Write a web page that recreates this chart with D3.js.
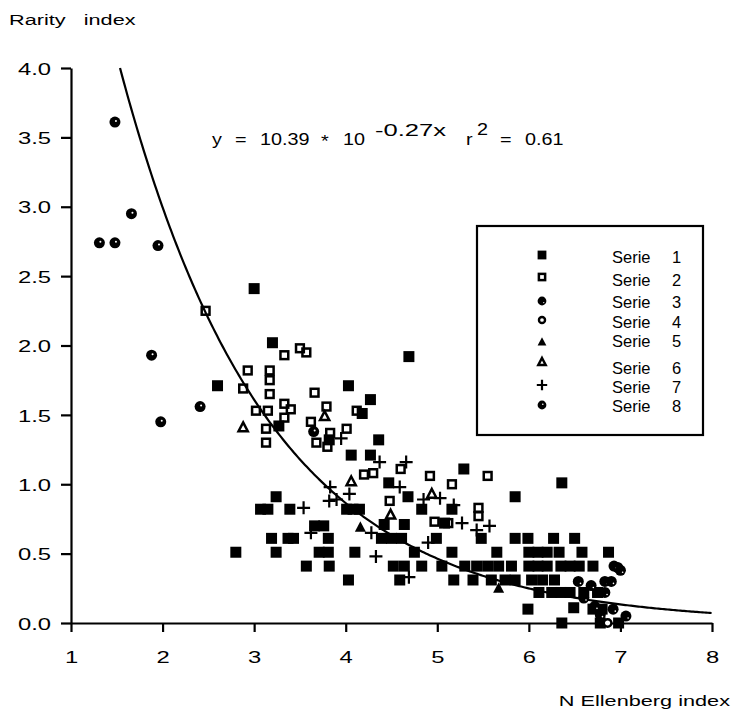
<!DOCTYPE html>
<html>
<head>
<meta charset="utf-8">
<script src="https://cdn.jsdelivr.net/npm/d3@7"></script>
<style>
  body { margin: 0; background: #fff; }
  svg { display: block; }
  text { font-family: "Liberation Sans", Arial, sans-serif; fill: #000; white-space: pre; }
</style>
</head>
<body>
<svg id="chart" width="734" height="720"></svg>
<script>
// --- data
const X_TICKS = [1, 2, 3, 4, 5, 6, 7, 8];
const Y_TICKS = [0, 0.5, 1, 1.5, 2, 2.5, 3, 3.5, 4];
const X_LABEL = 'N Ellenberg index';
const Y_LABEL = 'Rarity   index';

// fitted curve y = a * 10^(b x)
const FIT_A = 10.39;
const FIT_B = -0.27;
const FIT_R2 = 0.61;

const SERIES_NAMES = ['Serie 1', 'Serie 2', 'Serie 3', 'Serie 4', 'Serie 5', 'Serie 6', 'Serie 7', 'Serie 8'];
const SERIES_SYMBOLS = ['square', 'squareOpen', 'circleDot', 'circleOpen', 'triangle', 'triangleOpen', 'plus', 'circleSpot'];

const SERIE_1 = [
    [3.0, 2.41], [3.2, 2.02], [2.6, 1.71], [4.69, 1.92], [4.03, 1.71], [4.27, 1.61], [4.18, 1.51],
    [3.27, 1.42], [3.82, 1.32], [4.36, 1.32], [4.06, 1.21], [4.27, 1.21], [4.47, 1.01], [5.29, 1.11],
    [6.36, 1.01], [5.85, 0.91], [4.68, 0.91], [3.24, 0.91],
    [3.07, 0.82], [3.15, 0.82], [3.39, 0.82], [4.01, 0.82], [4.08, 0.82], [4.15, 0.82], [4.83, 0.82], [5.16, 0.82],
    [3.66, 0.70], [3.76, 0.70], [4.42, 0.71], [4.64, 0.71], [5.08, 0.72],
    [3.19, 0.61], [3.37, 0.61], [3.43, 0.61], [3.81, 0.61], [4.39, 0.61], [4.5, 0.61], [4.61, 0.61],
    [4.99, 0.61], [5.48, 0.61], [5.85, 0.61], [5.99, 0.61], [6.27, 0.61], [6.5, 0.61],
    [2.8, 0.51], [3.24, 0.51], [3.71, 0.51], [3.81, 0.51], [4.1, 0.51], [4.75, 0.51], [5.16, 0.51],
    [5.65, 0.51], [6.0, 0.51], [6.1, 0.51], [6.2, 0.51], [6.33, 0.51], [6.58, 0.51], [6.87, 0.51],
    [3.57, 0.41], [3.82, 0.41], [4.52, 0.41], [4.64, 0.41], [4.83, 0.41], [5.05, 0.41], [5.3, 0.41],
    [5.43, 0.41], [5.55, 0.41], [5.67, 0.41], [5.81, 0.41], [6.0, 0.41], [6.1, 0.41], [6.2, 0.41],
    [6.35, 0.41], [6.45, 0.41], [6.55, 0.41], [6.7, 0.41],
    [4.03, 0.31], [4.59, 0.31], [5.18, 0.31], [5.39, 0.31], [5.59, 0.31], [5.74, 0.31], [5.85, 0.31],
    [6.03, 0.31], [6.15, 0.31], [6.28, 0.31],
    [6.11, 0.22], [6.25, 0.22], [6.35, 0.22], [6.45, 0.22], [6.6, 0.22], [6.75, 0.22],
    [5.99, 0.10], [6.49, 0.11], [6.7, 0.10], [6.8, 0.10],
    [6.36, 0.0], [6.78, 0.0], [6.98, 0.0]
];
const SERIE_2 = [
    [2.47, 2.25], [3.33, 1.93], [3.5, 1.98], [3.57, 1.95], [2.93, 1.82], [3.17, 1.82], [3.17, 1.75],
    [2.88, 1.69], [3.17, 1.65], [3.66, 1.66], [3.02, 1.53], [3.15, 1.53], [3.33, 1.58], [3.4, 1.54],
    [3.33, 1.48], [3.13, 1.40], [3.13, 1.30], [3.79, 1.56], [3.62, 1.45], [3.68, 1.30], [3.8, 1.27],
    [3.83, 1.37], [4.12, 1.53], [4.01, 1.40], [4.6, 1.11], [4.3, 1.08], [4.2, 1.07], [4.92, 1.06],
    [5.16, 1.0], [5.55, 1.06], [4.48, 0.88], [5.45, 0.83], [5.45, 0.77], [4.97, 0.73], [5.12, 0.72]
];
const SERIE_3 = [
    [6.54, 0.30], [6.6, 0.18], [6.68, 0.27], [6.72, 0.12], [6.83, 0.30], [6.9, 0.30], [6.97, 0.40],
    [6.93, 0.41], [6.83, 0.22], [6.92, 0.10], [7.06, 0.05], [6.78, 0.06], [7.0, 0.38]
];
const SERIE_4 = [[6.86, 0.0]];
const SERIE_5 = [[5.67, 0.25], [4.16, 0.69]];
const SERIE_6 = [[2.88, 1.41], [3.77, 1.49], [4.06, 1.02], [4.49, 0.78], [4.94, 0.93]];
const SERIE_7 = [
    [3.95, 1.33], [4.37, 1.16], [4.66, 1.16], [3.83, 0.98], [3.82, 0.88], [3.9, 0.89], [4.04, 0.93],
    [3.54, 0.83], [3.62, 0.65], [4.28, 0.65], [4.33, 0.48], [4.69, 0.33], [4.59, 0.98], [4.85, 0.89],
    [5.03, 0.90], [5.27, 0.72], [4.9, 0.58], [5.57, 0.70], [5.43, 0.67], [5.18, 0.85]
];
const SERIE_8 = [
    [1.48, 3.61], [1.66, 2.95], [1.31, 2.74], [1.48, 2.74], [1.95, 2.72], [1.88, 1.93], [1.98, 1.45],
    [2.41, 1.56], [3.65, 1.38]
];
const SERIES = [SERIE_1, SERIE_2, SERIE_3, SERIE_4, SERIE_5, SERIE_6, SERIE_7, SERIE_8];

// --- layout
const svg = d3.select('#chart');
const x = d3.scaleLinear().domain([1, 8]).range([71, 712]);
const y = d3.scaleLinear().domain([0, 4]).range([623, 68]);
const AXIS_STRETCH = 1.4; // axis lettering is horizontally wide in the original

function drawMarker(sel, type, k) {
    k = k || 1;
    if (type === 'square') {
        sel.append('rect').attr('x', -5.5 * k).attr('y', -5.5 * k).attr('width', 11 * k).attr('height', 11 * k);
    } else if (type === 'squareOpen') {
        sel.append('rect').attr('x', -3.9 * k).attr('y', -3.9 * k).attr('width', 7.8 * k).attr('height', 7.8 * k)
            .attr('fill', 'none').attr('stroke', '#000').attr('stroke-width', 2.5);
    } else if (type === 'circleDot') {
        sel.append('circle').attr('r', 5.5 * k);
        sel.append('circle').attr('cx', 2.2 * k).attr('cy', 2 * k).attr('r', 0.8 * k).attr('fill', '#fff');
    } else if (type === 'circleSpot') {
        sel.append('circle').attr('r', 5.5 * k);
        sel.append('circle').attr('cx', 1 * k).attr('cy', -1 * k).attr('r', 1 * k).attr('fill', '#fff');
    } else if (type === 'circleOpen') {
        sel.append('circle').attr('r', 3.8 * k).attr('fill', '#fff').attr('stroke', '#000').attr('stroke-width', 2.4);
    } else if (type === 'triangle') {
        sel.append('path').attr('d', `M0,${-6 * k}L${5.5 * k},${4.5 * k}L${-5.5 * k},${4.5 * k}Z`);
    } else if (type === 'triangleOpen') {
        sel.append('path').attr('d', `M0,${-5 * k}L${4.6 * k},${3.8 * k}L${-4.6 * k},${3.8 * k}Z`)
            .attr('fill', 'none').attr('stroke', '#000').attr('stroke-width', 2.5);
    } else if (type === 'plus') {
        sel.append('path').attr('d', `M${-6.5 * k},0H${6.5 * k}M0,${-6.5 * k}V${6.5 * k}`)
            .attr('stroke', '#000').attr('stroke-width', 2.2);
    }
}

// --- axes
const yAxis = d3.axisLeft(y).tickValues(Y_TICKS).tickSize(10).tickSizeOuter(0).tickFormat(d3.format('.1f'));
const gy = svg.append('g').attr('transform', `translate(${x(1)},0)`).call(yAxis);
gy.select('.domain').attr('stroke-width', 2.2);
gy.selectAll('.tick line').attr('stroke-width', 2.2);
gy.selectAll('.tick text')
    .attr('x', -20 / AXIS_STRETCH)
    .attr('dy', '0.36em')
    .attr('transform', `scale(${AXIS_STRETCH},1)`)
    .attr('font-size', 17)
    .attr('font-family', '"Liberation Sans", Arial, sans-serif');

const xAxis = d3.axisBottom(x).tickValues(X_TICKS).tickSize(9).tickSizeOuter(0).tickFormat(d3.format('d'));
const gx = svg.append('g').attr('transform', `translate(0,${y(0)})`).call(xAxis);
gx.select('.domain').attr('stroke-width', 2.2);
gx.selectAll('.tick line').attr('stroke-width', 2.2);
gx.selectAll('.tick text')
    .attr('y', 40)
    .attr('dy', 0)
    .attr('transform', `scale(${AXIS_STRETCH},1)`)
    .attr('font-size', 17)
    .attr('font-family', '"Liberation Sans", Arial, sans-serif');

// axis titles
svg.append('text')
    .attr('transform', `translate(9,25) scale(${AXIS_STRETCH},1)`)
    .attr('font-size', 15.5)
    .text(Y_LABEL);
svg.append('text')
    .attr('transform', `translate(730,706) scale(${AXIS_STRETCH},1)`)
    .attr('text-anchor', 'end')
    .attr('font-size', 15.5)
    .text(X_LABEL);

// --- fitted curve
const x0 = Math.log10(y.domain()[1] / FIT_A) / FIT_B;
const curveData = d3.range(x0, 8.0001, 0.02).map(v => [v, FIT_A * Math.pow(10, FIT_B * v)]);
svg.append('path')
    .datum(curveData)
    .attr('fill', 'none')
    .attr('stroke', '#000')
    .attr('stroke-width', 2.2)
    .attr('d', d3.line().x(d => x(d[0])).y(d => y(d[1])));

// --- equation
const eqParts = [
    [212, 145, 1.2, 'y'], [235, 145, 1.2, '='], [260, 145, 1.2, FIT_A.toFixed(2)], [321, 147, 1.2, '*'],
    [343, 145, 1.2, '10'], [375, 136, 1.55, FIT_B.toFixed(2) + 'x'], [466, 145, 1.2, 'r'],
    [477, 135, 1.2, '2'], [500, 145, 1.2, '='], [525, 145, 1.2, FIT_R2.toFixed(2)]
];
svg.append('g').attr('font-size', 16.5)
    .selectAll('text')
    .data(eqParts)
    .enter()
    .append('text')
    .attr('transform', d => `translate(${d[0]},${d[1]}) scale(${d[2]},1)`)
    .text(d => d[3]);

// --- points
SERIES.forEach((serie, idx) => {
    const g = svg.append('g').attr('class', 'serie' + (idx + 1));
    serie.forEach(p => {
        const m = g.append('g').attr('transform', `translate(${x(p[0])},${y(p[1])})`);
        drawMarker(m, SERIES_SYMBOLS[idx]);
    });
});

// --- legend
const LEGEND_ROWS = [255, 277, 301, 320, 342, 362, 385, 405];
const LEGEND_TEXT_ROWS = [263, 286, 308, 328, 347, 374, 393, 412];
svg.append('rect')
    .attr('x', 477).attr('y', 226).attr('width', 226).attr('height', 209)
    .attr('fill', 'none').attr('stroke', '#000').attr('stroke-width', 2.2);
SERIES_NAMES.forEach((name, idx) => {
    const m = svg.append('g').attr('transform', `translate(542,${LEGEND_ROWS[idx]})`);
    drawMarker(m, SERIES_SYMBOLS[idx], 0.8);
    const parts = name.split(' ');
    svg.append('text').attr('x', 612).attr('y', LEGEND_TEXT_ROWS[idx]).attr('font-size', 16.5).text(parts[0]);
    svg.append('text').attr('x', 672).attr('y', LEGEND_TEXT_ROWS[idx]).attr('font-size', 16.5).text(parts[1]);
});
</script>
</body>
</html>
